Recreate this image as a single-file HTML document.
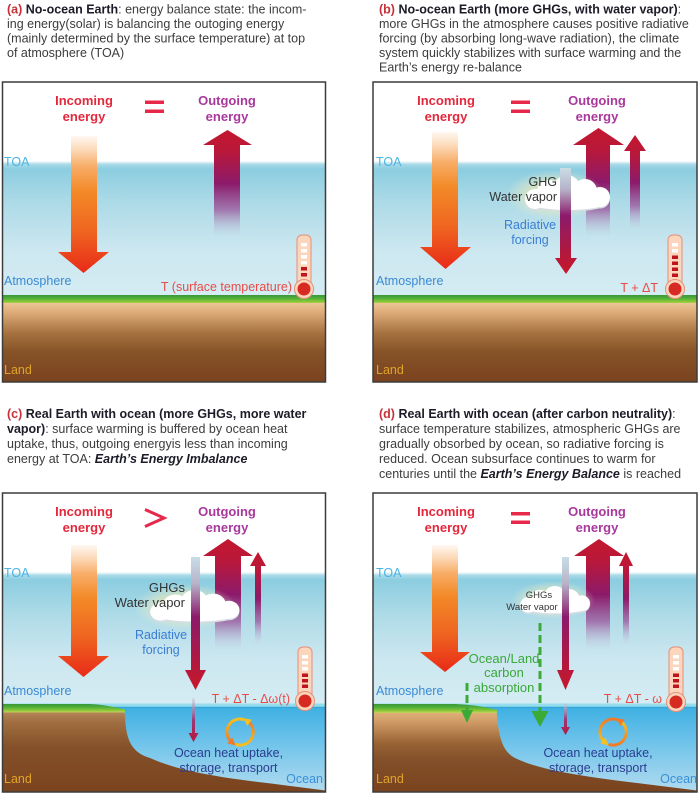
<!DOCTYPE html>
<html><head><meta charset="utf-8"><style>
html,body{margin:0;padding:0;background:#fff;}
svg{display:block;font-family:"Liberation Sans",Arial,sans-serif;}
</style></head><body>
<svg width="700" height="795" viewBox="0 0 700 795" xmlns="http://www.w3.org/2000/svg">
<defs>
<linearGradient id="sky" x1="0" y1="0" x2="0" y2="1">
<stop offset="0" stop-color="#ffffff"/><stop offset="0.025" stop-color="#a8d9e7"/><stop offset="0.06" stop-color="#8bcde0"/><stop offset="0.3" stop-color="#acdae7"/><stop offset="0.65" stop-color="#cce7f0"/><stop offset="1" stop-color="#d5ecf3"/>
</linearGradient>
<linearGradient id="grass" x1="0" y1="0" x2="0" y2="1">
<stop offset="0" stop-color="#3a9638"/><stop offset="0.35" stop-color="#4fae3a"/><stop offset="0.7" stop-color="#82c636"/><stop offset="1" stop-color="#c8d25a"/>
</linearGradient>
<linearGradient id="land" x1="0" y1="0" x2="0" y2="1">
<stop offset="0" stop-color="#edc597"/><stop offset="0.1" stop-color="#e0b07c"/><stop offset="0.38" stop-color="#a67240"/><stop offset="0.62" stop-color="#865328"/><stop offset="1" stop-color="#7a421e"/>
</linearGradient>
<linearGradient id="landc" x1="0" y1="0" x2="0" y2="1">
<stop offset="0" stop-color="#b88a5c"/><stop offset="0.15" stop-color="#a06e40"/><stop offset="0.45" stop-color="#84512a"/><stop offset="1" stop-color="#7a431e"/>
</linearGradient>
<linearGradient id="landd" x1="0" y1="0" x2="0" y2="1">
<stop offset="0" stop-color="#e4b67e"/><stop offset="0.12" stop-color="#d4a06a"/><stop offset="0.4" stop-color="#9a6434"/><stop offset="0.6" stop-color="#82502a"/><stop offset="1" stop-color="#7a431e"/>
</linearGradient>
<linearGradient id="ocean" x1="0" y1="0" x2="0" y2="1">
<stop offset="0" stop-color="#3cafe2"/><stop offset="0.4" stop-color="#6cc2ea"/><stop offset="1" stop-color="#b2dbef"/>
</linearGradient>
<linearGradient id="inc" x1="0" y1="0" x2="0" y2="1">
<stop offset="0" stop-color="#fff8f2"/><stop offset="0.1" stop-color="#fcd9b8"/><stop offset="0.22" stop-color="#f8ad68"/><stop offset="0.4" stop-color="#f38a28"/><stop offset="0.7" stop-color="#ef6420"/><stop offset="1" stop-color="#e82a18"/>
</linearGradient>
<linearGradient id="out" x1="0" y1="0" x2="0" y2="1">
<stop offset="0" stop-color="#c3172e"/><stop offset="0.2" stop-color="#b9183a"/><stop offset="0.5" stop-color="#8c1a6a"/><stop offset="0.75" stop-color="#9a4c96" stop-opacity="0.7"/><stop offset="1" stop-color="#c8c0d8" stop-opacity="0"/>
</linearGradient>
<linearGradient id="rf" x1="0" y1="0" x2="0" y2="1">
<stop offset="0" stop-color="#c9dde6"/><stop offset="0.2" stop-color="#b7b3c9"/><stop offset="0.45" stop-color="#8b1b6b"/><stop offset="0.8" stop-color="#b2183e"/><stop offset="1" stop-color="#c8172c"/>
</linearGradient>
<linearGradient id="bs" x1="0" y1="0" x2="0" y2="1">
<stop offset="0" stop-color="#c8d0e0" stop-opacity="0.5"/><stop offset="0.5" stop-color="#9a3a78"/><stop offset="1" stop-color="#b8163a"/>
</linearGradient>
<linearGradient id="yo" x1="0" y1="0" x2="0" y2="1">
<stop offset="0" stop-color="#f6c020"/><stop offset="1" stop-color="#f07a28"/>
</linearGradient>
<linearGradient id="oy" x1="0" y1="0" x2="0" y2="1">
<stop offset="0" stop-color="#f07a28"/><stop offset="1" stop-color="#f6c020"/>
</linearGradient>
<radialGradient id="glow">
<stop offset="0" stop-color="#f3eba0" stop-opacity="0.95"/><stop offset="0.55" stop-color="#f1e9b0" stop-opacity="0.6"/><stop offset="1" stop-color="#f0f0d0" stop-opacity="0"/>
</radialGradient>
<marker id="mo" viewBox="0 0 10 10" refX="3" refY="5" markerWidth="2.6" markerHeight="2.6" orient="auto"><path d="M0,0 L10,5 L0,10 z" fill="#f07a28"/></marker>
<marker id="my" viewBox="0 0 10 10" refX="3" refY="5" markerWidth="2.6" markerHeight="2.6" orient="auto"><path d="M0,0 L10,5 L0,10 z" fill="#f6c020"/></marker>
<g id="cloudshape">
<circle cx="14" cy="24" r="10"/><circle cx="28" cy="17" r="12"/><circle cx="46" cy="13" r="13"/><circle cx="64" cy="16" r="12"/><circle cx="79" cy="22" r="10"/><ellipse cx="47" cy="27" rx="40" ry="8"/>
</g>
<clipPath id="ca"><rect x="2.5" y="82" width="323" height="300"/></clipPath>
<clipPath id="cb"><rect x="373" y="82" width="324" height="300"/></clipPath>
<clipPath id="cc"><rect x="2.5" y="493" width="323" height="299"/></clipPath>
<clipPath id="cd"><rect x="373" y="493" width="324" height="299"/></clipPath>
</defs>

<!-- Captions -->
<g font-size="12.5" fill="#3c3c3c">
<text x="7" y="13.5"><tspan fill="#c8303a" font-weight="bold">(a)</tspan> <tspan font-weight="bold" fill="#1c1c28">No-ocean Earth</tspan>: energy balance state: the incom-</text>
<text x="7" y="28">ing energy(solar) is balancing the outoging energy</text>
<text x="7" y="42.5">(mainly determined by the surface temperature) at top</text>
<text x="7" y="57">of atmosphere (TOA)</text>

<text x="379" y="13.5"><tspan fill="#c8303a" font-weight="bold">(b)</tspan> <tspan font-weight="bold" fill="#1c1c28">No-ocean Earth (more GHGs, with water vapor)</tspan>:</text>
<text x="379" y="28">more GHGs in the atmosphere causes positive radiative</text>
<text x="379" y="42.5">forcing (by absorbing long-wave radiation), the climate</text>
<text x="379" y="57">system quickly stabilizes with surface warming and the</text>
<text x="379" y="71.5">Earth’s energy re-balance</text>

<text x="7" y="418"><tspan fill="#c8303a" font-weight="bold">(c)</tspan> <tspan font-weight="bold" fill="#1c1c28">Real Earth with ocean (more GHGs, more water</tspan></text>
<text x="7" y="433"><tspan font-weight="bold" fill="#1c1c28">vapor)</tspan>: surface warming is buffered by ocean heat</text>
<text x="7" y="448">uptake, thus, outgoing energyis less than incoming</text>
<text x="7" y="463">energy at TOA: <tspan font-weight="bold" font-style="italic" fill="#1c1c28">Earth’s Energy Imbalance</tspan></text>

<text x="379" y="418"><tspan fill="#c8303a" font-weight="bold">(d)</tspan> <tspan font-weight="bold" fill="#1c1c28">Real Earth with ocean (after carbon neutrality)</tspan>:</text>
<text x="379" y="433">surface temperature stabilizes, atmospheric GHGs are</text>
<text x="379" y="448">gradually obsorbed by ocean, so radiative forcing is</text>
<text x="379" y="463">reduced. Ocean subsurface continues to warm for</text>
<text x="379" y="478">centuries until the <tspan font-weight="bold" font-style="italic" fill="#1c1c28">Earth’s Energy Balance</tspan> is reached</text>
</g>

<!-- Panel A -->
<g clip-path="url(#ca)">
<rect x="2.5" y="82" width="323" height="300" fill="#fff"/>
<rect x="2.5" y="161" width="323" height="136" fill="url(#sky)"/>
<rect x="2.5" y="295" width="323" height="9" fill="url(#grass)"/>
<rect x="2.5" y="303" width="323" height="79" fill="url(#land)"/>
<path d="M71,136 L97,136 L97,252 L109,252 L83.5,273 L58,252 L71,252 Z" fill="url(#inc)"/>
<path d="M227.5,130 L252,145 L240,145 L240,237 L214,237 L214,145 L203,145 Z" fill="url(#out)"/>
</g>
<rect x="2.5" y="82" width="323" height="300" fill="none" stroke="#3c3c3c" stroke-width="1.5"/>
<g font-weight="bold" font-size="13" text-anchor="middle">
<text x="84" y="105" fill="#e4283c">Incoming</text><text x="84" y="121" fill="#e4283c">energy</text>
<text x="227" y="105" fill="#a8389c">Outgoing</text><text x="227" y="121" fill="#a8389c">energy</text>
</g>
<rect x="145" y="100.5" width="19" height="3.5" fill="#e8284a"/><rect x="145" y="109.5" width="19" height="3.5" fill="#e8284a"/>
<g font-size="12.5">
<text x="4" y="166" fill="#4ab4e4">TOA</text>
<text x="4" y="285" fill="#3a8ad4">Atmosphere</text>
<text x="4" y="374" fill="#e0a428">Land</text>
<text x="292" y="291" fill="#e84c48" text-anchor="end">T (surface temperature)</text>
</g>
<!-- thermometer a -->
<g>
<rect x="297" y="235" width="14" height="52" rx="5" fill="#fbd6bc" stroke="#e58f78" stroke-width="1"/>
<circle cx="304" cy="289" r="9.5" fill="#fbd6bc" stroke="#e58f78" stroke-width="1"/>
<circle cx="304" cy="289" r="6.5" fill="#d62a22"/>
<rect x="301" y="243" width="6" height="3.5" fill="#fff"/><rect x="301" y="249" width="6" height="3.5" fill="#fff"/><rect x="301" y="255" width="6" height="3.5" fill="#fff"/><rect x="301" y="261" width="6" height="3.5" fill="#fff"/>
<rect x="301" y="267" width="6" height="3.5" fill="#c0141c"/><rect x="301" y="273" width="6" height="3.5" fill="#c0141c"/>
</g>

<!-- Panel B -->
<g clip-path="url(#cb)">
<rect x="373" y="82" width="324" height="300" fill="#fff"/>
<rect x="373" y="161" width="324" height="136" fill="url(#sky)"/>
<rect x="373" y="295" width="324" height="9" fill="url(#grass)"/>
<rect x="373" y="303" width="324" height="79" fill="url(#land)"/>
<path d="M432,132 L458,132 L458,247 L471,247 L445.5,269 L420,247 L432,247 Z" fill="url(#inc)"/>
<path d="M598.5,128 L624,145 L610,145 L610,237 L586,237 L586,145 L573,145 Z" fill="url(#out)"/>
<path d="M635,135 L646,151 L640,151 L640,230 L630,230 L630,151 L624,151 Z" fill="url(#out)"/>
<ellipse cx="555" cy="195" rx="50" ry="25" fill="url(#glow)"/>
<use href="#cloudshape" transform="translate(521,176.5)" fill="#d6dde4"/>
<use href="#cloudshape" transform="translate(521,175)" fill="#ffffff"/>
<path d="M560,168 L571,168 L571,258 L577,258 L566,274 L555,258 L560,258 Z" fill="url(#rf)"/>
</g>
<rect x="373" y="82" width="324" height="300" fill="none" stroke="#3c3c3c" stroke-width="1.5"/>
<g font-weight="bold" font-size="13" text-anchor="middle">
<text x="446" y="105" fill="#e4283c">Incoming</text><text x="446" y="121" fill="#e4283c">energy</text>
<text x="597" y="105" fill="#a8389c">Outgoing</text><text x="597" y="121" fill="#a8389c">energy</text>
</g>
<rect x="511" y="100.5" width="19" height="3.5" fill="#e8284a"/><rect x="511" y="109.5" width="19" height="3.5" fill="#e8284a"/>
<g font-size="12.5">
<text x="376" y="166" fill="#4ab4e4">TOA</text>
<text x="376" y="285" fill="#3a8ad4">Atmosphere</text>
<text x="376" y="374" fill="#e0a428">Land</text>
<text x="658" y="292" fill="#e84c48" text-anchor="end">T + ΔT</text>
<text x="557" y="186" fill="#333" text-anchor="end">GHG</text>
<text x="557" y="201" fill="#333" text-anchor="end">Water vapor</text>
<text x="530" y="229" fill="#3a7ed4" text-anchor="middle">Radiative</text>
<text x="530" y="244" fill="#3a7ed4" text-anchor="middle">forcing</text>
</g>
<g>
<rect x="668" y="235" width="14" height="52" rx="5" fill="#fbd6bc" stroke="#e58f78" stroke-width="1"/>
<circle cx="675" cy="289" r="9.5" fill="#fbd6bc" stroke="#e58f78" stroke-width="1"/>
<circle cx="675" cy="289" r="6.5" fill="#d62a22"/>
<rect x="672" y="243" width="6" height="3.5" fill="#fff"/><rect x="672" y="249" width="6" height="3.5" fill="#fff"/>
<rect x="672" y="255.5" width="6" height="3.5" fill="#c0141c"/><rect x="672" y="261.5" width="6" height="3.5" fill="#c0141c"/><rect x="672" y="267.5" width="6" height="3.5" fill="#c0141c"/><rect x="672" y="273.5" width="6" height="3.5" fill="#c0141c"/>
</g>

<!-- Panel C -->
<g clip-path="url(#cc)">
<rect x="2.5" y="493" width="323" height="299" fill="#fff"/>
<rect x="2.5" y="572" width="323" height="134" fill="url(#sky)"/>
<rect x="2.5" y="706" width="323" height="86" fill="url(#ocean)"/>
<rect x="2.5" y="703.5" width="323" height="3.5" fill="#95dced"/>
<line x1="2.5" y1="707.3" x2="325.5" y2="707.3" stroke="#34a4d8" stroke-width="1.2"/>
<path d="M2.5,710 L120,710 Q125,711 125,716 C126,738 130,752 150,758 C172,768 205,776 267,783 L325.5,790.5 L325.5,792 L2.5,792 Z" fill="url(#landc)"/>
<path d="M2.5,704 L90,704 Q105,704.5 125,709.5 L125,712.5 L2.5,712.5 Z" fill="url(#grass)"/>
<path d="M71,545 L97,545 L97,656 L109,656 L83.5,677 L58,656 L71,656 Z" fill="url(#inc)"/>
<path d="M228,539 L253,556 L241,556 L241,650 L215,650 L215,556 L203,556 Z" fill="url(#out)"/>
<path d="M258,552 L266,566 L261,566 L261,645 L255,645 L255,566 L250,566 Z" fill="url(#out)"/>
<ellipse cx="185" cy="607" rx="52" ry="23" fill="url(#glow)"/>
<use href="#cloudshape" transform="translate(146,591.5) scale(1.05,0.9)" fill="#d6dde4"/>
<use href="#cloudshape" transform="translate(146,590) scale(1.05,0.9)" fill="#ffffff"/>
<path d="M191,557 L200,557 L200,670 L206,670 L195.5,690 L185,670 L191,670 Z" fill="url(#rf)"/>
<path d="M192,698 L195,698 L195,733 L198.5,733 L193.5,742 L188.5,733 L192,733 Z" fill="url(#bs)"/>
<path d="M244.4,719.8 A13,13 0 0 0 231.5,741.9" fill="none" stroke="url(#yo)" stroke-width="3" marker-end="url(#mo)"/>
<path d="M235.6,744.2 A13,13 0 0 0 247.7,721.4" fill="none" stroke="url(#oy)" stroke-width="3" marker-end="url(#my)"/>
</g>
<rect x="2.5" y="493" width="323" height="299" fill="none" stroke="#3c3c3c" stroke-width="1.5"/>
<g font-weight="bold" font-size="13" text-anchor="middle">
<text x="84" y="516" fill="#e4283c">Incoming</text><text x="84" y="532" fill="#e4283c">energy</text>
<text x="227" y="516" fill="#a8389c">Outgoing</text><text x="227" y="532" fill="#a8389c">energy</text>
</g>
<polyline points="145,509.5 164,518 145,526.5" fill="none" stroke="#e8284a" stroke-width="3"/>
<g font-size="12.5">
<text x="4" y="577" fill="#4ab4e4">TOA</text>
<text x="4" y="695" fill="#3a8ad4">Atmosphere</text>
<text x="4" y="783" fill="#e0a428">Land</text>
<text x="323" y="783" fill="#3a90d8" text-anchor="end">Ocean</text>
<text x="290" y="703" fill="#e84c48" text-anchor="end">T + ΔT - Δω(t)</text>
<text x="185" y="592" fill="#333" text-anchor="end" font-size="13">GHGs</text>
<text x="185" y="607" fill="#333" text-anchor="end" font-size="13">Water vapor</text>
<text x="161" y="639" fill="#3a7ed4" text-anchor="middle">Radiative</text>
<text x="161" y="654" fill="#3a7ed4" text-anchor="middle">forcing</text>
<text x="228.5" y="757" fill="#2b3d8f" text-anchor="middle">Ocean heat uptake,</text>
<text x="228.5" y="772" fill="#2b3d8f" text-anchor="middle">storage, transport</text>
</g>
<g>
<rect x="298" y="647" width="14" height="52" rx="5" fill="#fbd6bc" stroke="#e58f78" stroke-width="1"/>
<circle cx="305" cy="701" r="9.5" fill="#fbd6bc" stroke="#e58f78" stroke-width="1"/>
<circle cx="305" cy="701" r="6.5" fill="#d62a22"/>
<rect x="302" y="655" width="6" height="3.5" fill="#fff"/><rect x="302" y="661" width="6" height="3.5" fill="#fff"/><rect x="302" y="667" width="6" height="3.5" fill="#fff"/>
<rect x="302" y="673.5" width="6" height="3.5" fill="#c0141c"/><rect x="302" y="679" width="6" height="3.5" fill="#c0141c"/><rect x="302" y="684.5" width="6" height="3.5" fill="#c0141c"/>
</g>

<!-- Panel D -->
<g clip-path="url(#cd)">
<rect x="373" y="493" width="324" height="299" fill="#fff"/>
<rect x="373" y="572" width="324" height="134" fill="url(#sky)"/>
<rect x="373" y="706" width="324" height="86" fill="url(#ocean)"/>
<rect x="373" y="703.5" width="324" height="3.5" fill="#95dced"/>
<line x1="373" y1="707.3" x2="697" y2="707.3" stroke="#34a4d8" stroke-width="1.2"/>
<path d="M373,710 L492,710 Q497,711 497,716 C499,738 503,752 515,758 C535,768 570,775 637,783 L697,790.5 L697,792 L373,792 Z" fill="url(#landd)"/>
<path d="M373,704 L455,704 Q480,705 497,710 L497,713 L373,713 Z" fill="url(#grass)"/>
<path d="M432,545 L458,545 L458,652 L470,652 L445,672 L420,652 L432,652 Z" fill="url(#inc)"/>
<path d="M599,539 L624,556 L610,556 L610,650 L586,650 L586,556 L574,556 Z" fill="url(#out)"/>
<path d="M626,552 L633,566 L629,566 L629,645 L623,645 L623,566 L619,566 Z" fill="url(#out)"/>
<ellipse cx="553" cy="600" rx="42" ry="19" fill="url(#glow)"/>
<use href="#cloudshape" transform="translate(517,587.5) scale(0.82,0.78)" fill="#d6dde4"/>
<use href="#cloudshape" transform="translate(517,586) scale(0.82,0.78)" fill="#ffffff"/>
<path d="M562,557 L569,557 L569,670 L574,670 L565.5,690 L557,670 L562,670 Z" fill="url(#rf)"/>
<path d="M564,703 L567,703 L567,727 L570,727 L565.5,735 L561,727 L564,727 Z" fill="url(#bs)"/>
<line x1="540" y1="623" x2="540" y2="711" stroke="#3caa36" stroke-width="3" stroke-dasharray="8 4"/>
<path d="M531.5,711 L548.5,711 L540,727 Z" fill="#3caa36"/>
<line x1="467" y1="683" x2="467" y2="710" stroke="#3caa36" stroke-width="3" stroke-dasharray="8 4"/>
<path d="M461,710 L473,710 L467,723 Z" fill="#3caa36"/>
<path d="M617.4,719.8 A13,13 0 0 0 604.5,741.9" fill="none" stroke="url(#oy)" stroke-width="3" marker-end="url(#my)"/>
<path d="M608.6,744.2 A13,13 0 0 0 620.7,721.4" fill="none" stroke="url(#yo)" stroke-width="3" marker-end="url(#mo)"/>
</g>
<rect x="373" y="493" width="324" height="299" fill="none" stroke="#3c3c3c" stroke-width="1.5"/>
<g font-weight="bold" font-size="13" text-anchor="middle">
<text x="446" y="516" fill="#e4283c">Incoming</text><text x="446" y="532" fill="#e4283c">energy</text>
<text x="597" y="516" fill="#a8389c">Outgoing</text><text x="597" y="532" fill="#a8389c">energy</text>
</g>
<rect x="511" y="512" width="19" height="3.5" fill="#e8284a"/><rect x="511" y="520.5" width="19" height="3.5" fill="#e8284a"/>
<g font-size="12.5">
<text x="376" y="577" fill="#4ab4e4">TOA</text>
<text x="376" y="695" fill="#3a8ad4">Atmosphere</text>
<text x="376" y="783" fill="#e0a428">Land</text>
<text x="697" y="783" fill="#3a90d8" text-anchor="end">Ocean</text>
<text x="662" y="703" fill="#e84c48" text-anchor="end">T + ΔT - ω</text>
<text x="539" y="598" fill="#333" text-anchor="middle" font-size="9.5">GHGs</text>
<text x="532" y="610" fill="#333" text-anchor="middle" font-size="9.5">Water vapor</text>
<text x="504" y="663" fill="#3aa83a" text-anchor="middle" font-size="13">Ocean/Land</text>
<text x="504" y="677" fill="#3aa83a" text-anchor="middle" font-size="13">carbon</text>
<text x="504" y="692" fill="#3aa83a" text-anchor="middle" font-size="13">absorption</text>
<text x="598" y="757" fill="#2b3d8f" text-anchor="middle">Ocean heat uptake,</text>
<text x="598" y="772" fill="#2b3d8f" text-anchor="middle">storage, transport</text>
</g>
<g>
<rect x="669" y="647" width="14" height="53" rx="5" fill="#fbd6bc" stroke="#e58f78" stroke-width="1"/>
<circle cx="676" cy="702" r="9.5" fill="#fbd6bc" stroke="#e58f78" stroke-width="1"/>
<circle cx="676" cy="702" r="6.5" fill="#d62a22"/>
<rect x="673" y="655" width="6" height="3.5" fill="#fff"/><rect x="673" y="661" width="6" height="3.5" fill="#fff"/><rect x="673" y="667" width="6" height="3.5" fill="#fff"/>
<rect x="673" y="673.5" width="6" height="3.5" fill="#c0141c"/><rect x="673" y="679" width="6" height="3.5" fill="#c0141c"/><rect x="673" y="684.5" width="6" height="3.5" fill="#c0141c"/>
</g>
</svg>
</body></html>
